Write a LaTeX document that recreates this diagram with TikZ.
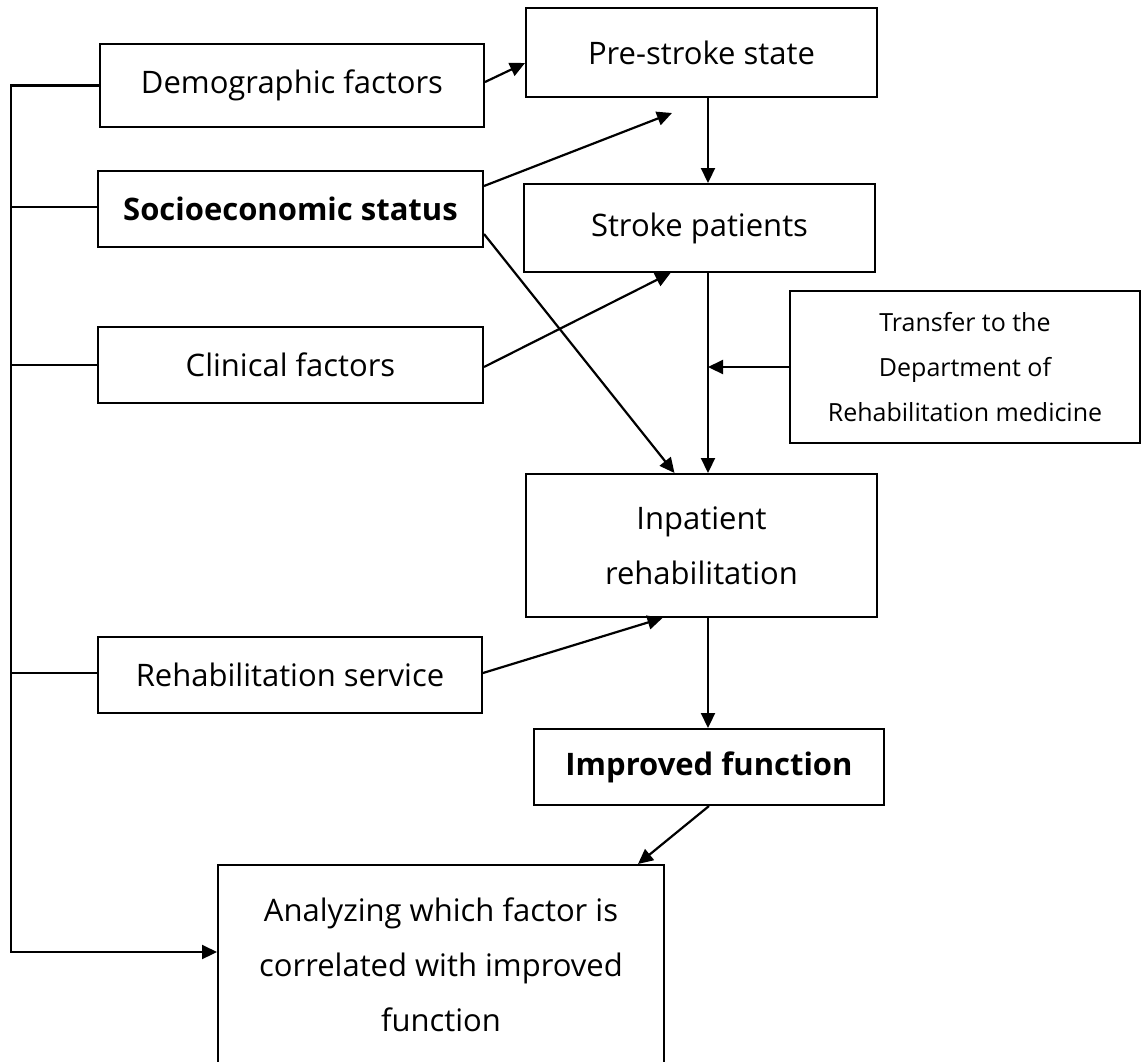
\documentclass[tikz,border=0pt]{standalone}
\usepackage{fontspec}
\setmainfont{Open Sans}
\usetikzlibrary{arrows.meta}

\begin{document}
\begin{tikzpicture}[x=1pt, y=-1pt,
  box/.style={draw, line width=2pt, inner sep=0pt, align=center,
    font=\fontsize{31}{55}\selectfont},
  smallbox/.style={box, font=\fontsize{25}{45}\selectfont},
  link/.style={line width=2.2pt},
  arr/.style={link, -{Triangle[length=15pt, width=14pt]}}]

\useasboundingbox (0,0) rectangle (1141,1061);

% factor boxes on the left
\path
(292,85.5) node[box, minimum width=384pt, minimum height=83pt](demo) {Demographic factors}
(290.5,209) node[box, minimum width=385pt, minimum height=76pt](socio) {\bfseries Socioeconomic status}
(290.5,365) node[box, minimum width=385pt, minimum height=76pt](clinical) {Clinical factors}
(290,675) node[box, minimum width=384pt, minimum height=76pt](service) {Rehabilitation service};

% main column
\path
(701.5,52.5) node[box, minimum width=351pt, minimum height=89pt](prestroke) {Pre-stroke state}
(699.5,228) node[box, minimum width=351pt, minimum height=88pt](stroke) {Stroke patients}
(965,367) node[smallbox, minimum width=350pt, minimum height=152pt](transfer) {Transfer to the\\ Department of\\ Rehabilitation medicine}
(701.5,545.5) node[box, minimum width=351pt, minimum height=143pt](inpatient) {Inpatient\\ rehabilitation}
(709,767) node[box, minimum width=350pt, minimum height=76pt](improved) {\bfseries Improved function}
(441,964.5) node[box, minimum width=446pt, minimum height=199pt](analyzing) {Analyzing which factor is\\ correlated with improved\\ function};

\coordinate (col) at (708,0);
\coordinate (sesgap) at (672,113);

%% vertical flow
\draw[arr] (prestroke.south -| col) -- (stroke.north -| col);
\draw[arr] (stroke.south -| col) -- (inpatient.north -| col);
\draw[arr] (transfer.west) -- (transfer.west -| col);
\draw[arr] (inpatient.south -| col) -- (improved.north -| col);
\draw[arr] (improved.south) -- ([xshift=-27pt]analyzing.north east);

%% arrows from the factors
\draw[arr] ([yshift=3.5pt]demo.east) -- ([yshift=-10.5pt]prestroke.west);
\draw[arr] ([yshift=23pt]socio.east) -- (sesgap);
\draw[arr] ([yshift=-25pt]socio.east) -- ([xshift=-27pt]inpatient.north);
\draw[arr] ([yshift=-2pt]clinical.east) -- ([xshift=-29pt]stroke.south);
\draw[arr] ([yshift=2pt]service.east) -- ([xshift=-39pt]inpatient.south);

%% bus line on the left
\draw[arr] (demo.west) -- ++(-88,0) coordinate (bus) |- ([yshift=12.5pt]analyzing.west);
\draw[link] ([yshift=2pt]socio.west) -- ([yshift=2pt]socio.west -| bus);
\draw[link] (clinical.west) -- (clinical.west -| bus);
\draw[link] ([yshift=2pt]service.west) -- ([yshift=2pt]service.west -| bus);

\end{tikzpicture}
\end{document}
